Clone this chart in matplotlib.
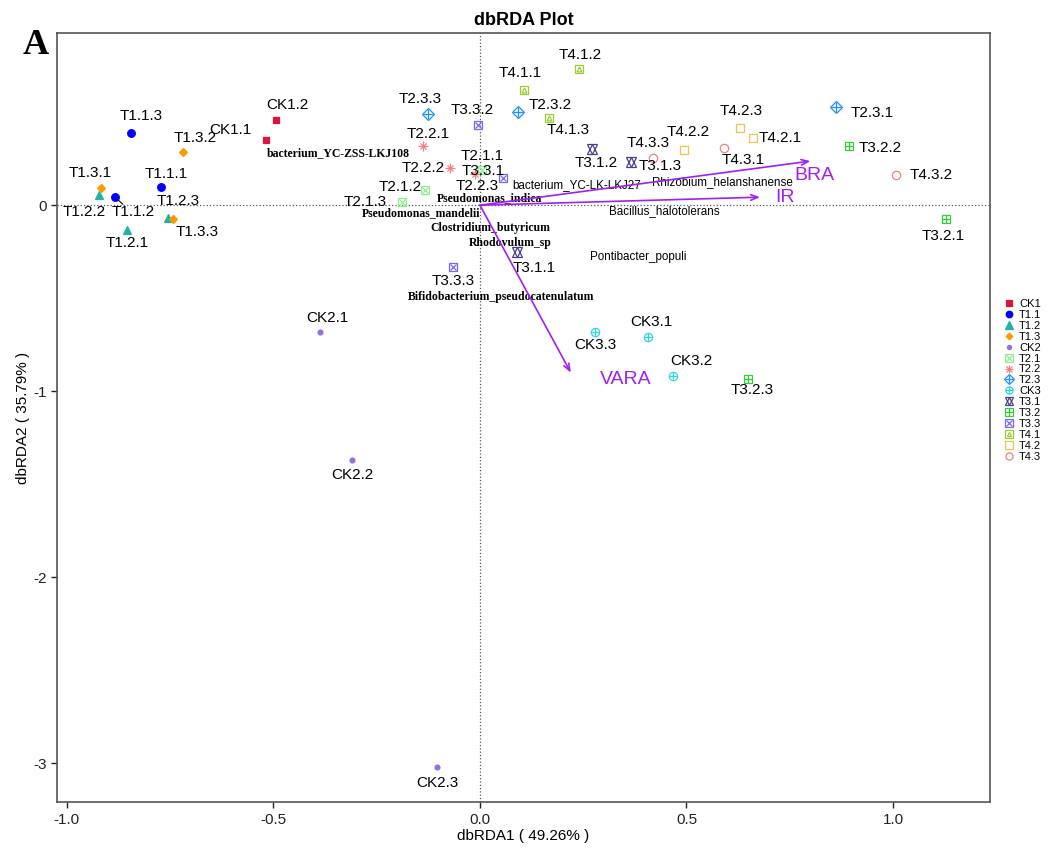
import matplotlib
matplotlib.use("Agg")
import matplotlib.pyplot as plt
from matplotlib.lines import Line2D

plt.rcParams['font.family'] = ['Liberation Sans', 'DejaVu Sans']
plt.rcParams['axes.unicode_minus'] = False

# sample scores (dbRDA1, dbRDA2)
samples = ['CK1.1', 'CK1.2',
           'T1.1.1', 'T1.1.2', 'T1.1.3',
           'T1.2.1', 'T1.2.2', 'T1.2.3',
           'T1.3.1', 'T1.3.2', 'T1.3.3',
           'CK2.1', 'CK2.2', 'CK2.3',
           'T2.1.1', 'T2.1.2', 'T2.1.3',
           'T2.2.1', 'T2.2.2', 'T2.2.3',
           'T2.3.1', 'T2.3.2', 'T2.3.3',
           'CK3.1', 'CK3.2', 'CK3.3',
           'T3.1.1', 'T3.1.2', 'T3.1.3',
           'T3.2.1', 'T3.2.2', 'T3.2.3',
           'T3.3.1', 'T3.3.2', 'T3.3.3',
           'T4.1.1', 'T4.1.2', 'T4.1.3',
           'T4.2.1', 'T4.2.2', 'T4.2.3',
           'T4.3.1', 'T4.3.2', 'T4.3.3']
x = [-0.518, -0.494,
     -0.772, -0.884, -0.845,
     -0.855, -0.922, -0.755,
     -0.918, -0.719, -0.743,
     -0.387, -0.310, -0.104,
     0.005, -0.133, -0.189,
     -0.138, -0.073, -0.012,
     0.862, 0.092, -0.126,
     0.407, 0.467, 0.278,
     0.090, 0.271, 0.366,
     1.128, 0.893, 0.649,
     0.056, -0.005, -0.065,
     0.107, 0.240, 0.167,
     0.661, 0.494, 0.630,
     0.591, 1.007, 0.419]
y = [0.350, 0.457,
     0.100, 0.043, 0.390,
     -0.134, 0.054, -0.070,
     0.090, 0.285, -0.075,
     -0.683, -1.370, -3.020,
     0.190, 0.080, 0.016,
     0.320, 0.200, 0.167,
     0.527, 0.500, 0.490,
     -0.710, -0.920, -0.683,
     -0.253, 0.300, 0.230,
     -0.075, 0.317, -0.935,
     0.145, 0.430, -0.333,
     0.620, 0.730, 0.470,
     0.360, 0.296, 0.414,
     0.306, 0.161, 0.253]

groups = ['CK1', 'T1.1', 'T1.2', 'T1.3', 'CK2', 'T2.1', 'T2.2', 'T2.3',
          'CK3', 'T3.1', 'T3.2', 'T3.3', 'T4.1', 'T4.2', 'T4.3']

# environmental arrows
env = ['BRA', 'IR', 'VARA']
env_x = [0.80, 0.678, 0.220]
env_y = [0.237, 0.043, -0.900]

# species scores
species = ['bacterium_YC-ZSS-LKJ108', 'bacterium_YC-LK-LKJ27', 'Rhizobium_helanshanense',
           'Pseudomonas_indica', 'Pseudomonas_mandelii', 'Bacillus_halotolerans',
           'Clostridium_butyricum', 'Rhodovulum_sp', 'Pontibacter_populi',
           'Bifidobacterium_pseudocatenulatum']
sp_x = [-0.344, 0.235, 0.586, 0.024, -0.143, 0.446, 0.024, 0.073, 0.383, 0.051]
sp_y = [0.280, 0.108, 0.124, 0.038, -0.043, -0.032, -0.124, -0.204, -0.280, -0.495]
sp_serif = [True, False, False, True, True, False, True, True, False, True]

# marker style per group: list of (marker, filled, size)
styles = {
    'CK1': ('#DC143C', [('s', True, 5)]),
    'T1.1': ('#0000FF', [('o', True, 5.5)]),
    'T1.2': ('#20B2AA', [('^', True, 6)]),
    'T1.3': ('#FF9900', [('D', True, 4)]),
    'CK2': ('#9370DB', [('o', True, 3.5)]),
    'T2.1': ('#90EE90', [('s', False, 6), ('x', False, 4.5)]),
    'T2.2': ('#F08080', [('+', False, 7), ('x', False, 5)]),
    'T2.3': ('#1E90FF', [('D', False, 6), ('+', False, 7)]),
    'CK3': ('#2ED8E0', [('o', False, 6), ('+', False, 6)]),
    'T3.1': ('#483D8B', [('^', False, 6.5), ('v', False, 6.5)]),
    'T3.2': ('#32CD32', [('s', False, 6), ('+', False, 6)]),
    'T3.3': ('#7B68EE', [('s', False, 6), ('x', False, 4.5)]),
    'T4.1': ('#9ACD32', [('s', False, 6), ('^', False, 3.5)]),
    'T4.2': ('#F0C050', [('s', False, 6)]),
    'T4.3': ('#F08080', [('o', False, 6)]),
}

# label offsets in pixels (right, up)
offs = {
    'CK1.1': (-36, 10), 'CK1.2': (11, 15), 'T1.1.1': (5, 13), 'T1.1.2': (18, -15),
    'T1.1.3': (10, 17), 'T1.2.1': (0, -13), 'T1.2.2': (-15, -17), 'T1.2.3': (10, 17),
    'T1.3.1': (-11, 15), 'T1.3.2': (12, 14), 'T1.3.3': (24, -13),
    'CK2.1': (7, 14), 'CK2.2': (0, -15), 'CK2.3': (0, -16),
    'T2.1.1': (0, 14), 'T2.1.2': (-25, 3), 'T2.1.3': (-37, 0),
    'T2.2.1': (5, 12), 'T2.2.2': (-27, 0), 'T2.2.3': (2, -12),
    'T2.3.1': (36, -6), 'T2.3.2': (32, 7), 'T2.3.3': (-8, 15),
    'CK3.1': (3, 15), 'CK3.2': (19, 15), 'CK3.3': (1, -13),
    'T3.1.1': (17, -16), 'T3.1.2': (4, -14), 'T3.1.3': (29, -4),
    'T3.2.1': (-3, -17), 'T3.2.2': (31, -2), 'T3.2.3': (4, -11),
    'T3.3.1': (-20, 7), 'T3.3.2': (-6, 15), 'T3.3.3': (0, -14),
    'T4.1.1': (-4, 17), 'T4.1.2': (1, 14), 'T4.1.3': (19, -12),
    'T4.2.1': (27, 0), 'T4.2.2': (4, 18), 'T4.2.3': (1, 17),
    'T4.3.1': (19, -12), 'T4.3.2': (35, 0), 'T4.3.3': (-5, 15),
}

fig = plt.figure(figsize=(10.56, 8.49), dpi=100)
ax = fig.add_axes([0.054, 0.055, 0.8835, 0.906])

ax.axhline(0, color='#555555', linestyle=':', linewidth=0.9, zorder=1)
ax.axvline(0, color='#555555', linestyle=':', linewidth=0.9, zorder=1)

handles = []
for g in groups:
    col, marks = styles[g]
    gx = [x[i] for i, s in enumerate(samples) if s.rsplit('.', 1)[0] == g]
    gy = [y[i] for i, s in enumerate(samples) if s.rsplit('.', 1)[0] == g]
    hs = []
    for m, filled, ms in marks:
        fc = col if filled else 'none'
        ax.plot(gx, gy, linestyle='none', marker=m, markersize=ms, color=col,
                markerfacecolor=fc, markeredgewidth=0.9, zorder=3)
        hs.append(Line2D([], [], linestyle='none', marker=m, markersize=ms * 0.85,
                         color=col, markerfacecolor=fc, markeredgewidth=0.9))
    handles.append(tuple(hs))

for i, s in enumerate(samples):
    dx, dy = offs[s]
    ax.annotate(s, (x[i], y[i]), xytext=(dx, dy), textcoords='offset pixels',
                ha='center', va='center', fontsize=11, color='black', zorder=4)

# short leader line for T1.1.2
i12 = samples.index('T1.1.2')
ax.annotate('', (x[i12], y[i12]), xytext=(8, -7), textcoords='offset pixels',
            arrowprops=dict(arrowstyle='-', color='black', lw=0.8, shrinkA=0, shrinkB=2))

for i, sp in enumerate(species):
    if sp_serif[i]:
        ax.text(sp_x[i], sp_y[i], sp, family=['Liberation Serif', 'DejaVu Serif'],
                fontweight='bold', fontsize=8.5, ha='center', va='center', zorder=4)
    else:
        ax.text(sp_x[i], sp_y[i], sp, fontsize=8.4, ha='center', va='center', zorder=4)

purple = '#A020F0'
for i, e in enumerate(env):
    ax.annotate('', (env_x[i], env_y[i]), xytext=(0, 0),
                arrowprops=dict(arrowstyle='->,head_length=0.5,head_width=0.2',
                                color=purple, lw=1.2, shrinkA=0, shrinkB=0), zorder=5)
env_off = {'BRA': (4, -14), 'IR': (15, 0), 'VARA': (29, -7)}
for i, e in enumerate(env):
    ax.annotate(e, (env_x[i], env_y[i]), xytext=env_off[e], textcoords='offset pixels',
                ha='center' if e == 'BRA' else 'left', va='center',
                fontsize=14, color=purple, zorder=5)

ax.set_xlim(-1.024, 1.235)
ax.set_ylim(-3.21, 0.925)
ax.set_xticks([-1.0, -0.5, 0.0, 0.5, 1.0])
ax.set_yticks([-3, -2, -1, 0])
ax.tick_params(direction='out', length=4, width=1, labelsize=11, colors='#222222')
for sp in ax.spines.values():
    sp.set_color('#555555')
    sp.set_linewidth(1.2)

ax.set_xlabel('dbRDA1 ( 49.26% )', fontsize=11, labelpad=2)
ax.set_ylabel('dbRDA2 ( 35.79% )', fontsize=11, labelpad=2)
ax.set_title('dbRDA Plot', fontsize=13, fontweight='bold', pad=6)

fig.text(0.034, 0.946, 'A', family=['Liberation Serif', 'DejaVu Serif'], fontweight='bold',
         fontsize=26, ha='center', va='center')

fig.legend(handles, groups, loc='center left', bbox_to_anchor=(0.946, 0.552),
           frameon=False, fontsize=8, handlelength=1.0, handletextpad=0.4,
           labelspacing=0.08, borderaxespad=0)

fig.savefig('out.png', dpi=100)
